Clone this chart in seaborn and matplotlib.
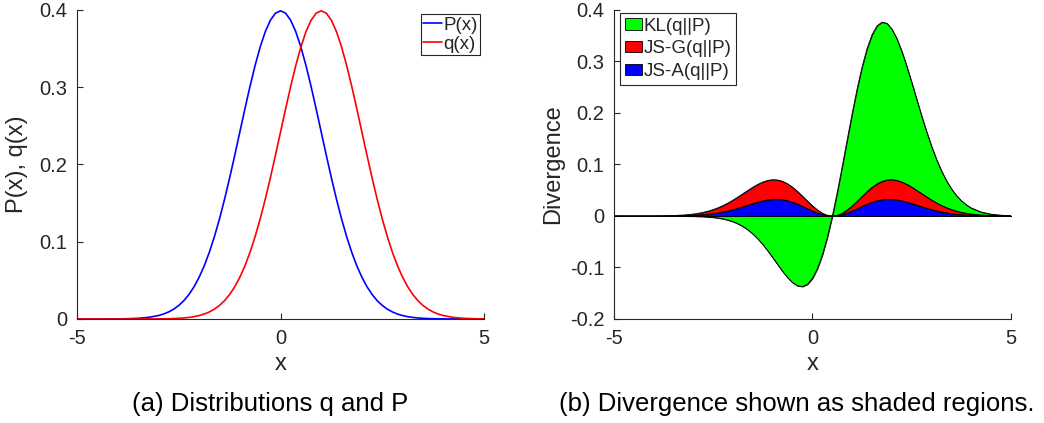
import numpy as np
import matplotlib
matplotlib.use("Agg")
import matplotlib.pyplot as plt
import seaborn as sns
from matplotlib.patches import Patch

# ---- data ----
x = np.concatenate([np.arange(-5, -3, 0.25),
                    np.arange(-3, 4.001, 0.125),
                    np.arange(4.25, 5.001, 0.25)])

p_x = [0.0000015, 0.0000051, 0.000016, 0.000048, 0.000134, 0.000353, 0.000873, 0.002029,
       0.004432, 0.006398, 0.009094, 0.012724, 0.017528, 0.023772, 0.031740, 0.041721,
       0.053991, 0.068787, 0.086277, 0.106538, 0.129518, 0.155012, 0.182649, 0.211877,
       0.241971, 0.272055, 0.301137, 0.328161, 0.352065, 0.371855, 0.386668, 0.395838,
       0.398942, 0.395838, 0.386668, 0.371855, 0.352065, 0.328161, 0.301137, 0.272055,
       0.241971, 0.211877, 0.182649, 0.155012, 0.129518, 0.106538, 0.086277, 0.068787,
       0.053991, 0.041721, 0.031740, 0.023772, 0.017528, 0.012724, 0.009094, 0.006398,
       0.004432, 0.003022, 0.002029, 0.001341, 0.000873, 0.000559, 0.000353, 0.000219,
       0.000134, 0.000048, 0.000016, 0.0000051, 0.0000015]

q_x = [0.0, 0.00000002, 0.0000001, 0.0000004, 0.0000015, 0.0000051, 0.000016, 0.000048,
       0.000134, 0.000219, 0.000353, 0.000559, 0.000873, 0.001341, 0.002029, 0.003022,
       0.004432, 0.006398, 0.009094, 0.012724, 0.017528, 0.023772, 0.031740, 0.041721,
       0.053991, 0.068787, 0.086277, 0.106538, 0.129518, 0.155012, 0.182649, 0.211877,
       0.241971, 0.272055, 0.301137, 0.328161, 0.352065, 0.371855, 0.386668, 0.395838,
       0.398942, 0.395838, 0.386668, 0.371855, 0.352065, 0.328161, 0.301137, 0.272055,
       0.241971, 0.211877, 0.182649, 0.155012, 0.129518, 0.106538, 0.086277, 0.068787,
       0.053991, 0.041721, 0.031740, 0.023772, 0.017528, 0.012724, 0.009094, 0.006398,
       0.004432, 0.002029, 0.000873, 0.000353, 0.000134]

kl = [0.0, -0.0000001, -0.0000005, -0.000002, -0.0000068, -0.000022, -0.000064, -0.00018,
      -0.00047, -0.00074, -0.00115, -0.00175, -0.00262, -0.00386, -0.00558, -0.00793,
      -0.01108, -0.01520, -0.02046, -0.02704, -0.03506, -0.04457, -0.05555, -0.06780,
      -0.08099, -0.09458, -0.10785, -0.11986, -0.12952, -0.13564, -0.13699, -0.13242,
      -0.12099, -0.10202, -0.07528, -0.04102, 0.0, 0.04648, 0.09667, 0.14844,
      0.19947, 0.24740, 0.29000, 0.32537, 0.35207, 0.36918, 0.37642, 0.37408,
      0.36296, 0.34430, 0.31964, 0.29065, 0.25904, 0.22639, 0.19412, 0.16337,
      0.13498, 0.10952, 0.08729, 0.06834, 0.05258, 0.03976, 0.02956, 0.02159,
      0.01551, 0.00761, 0.00349, 0.00150, 0.00060]

js_g = [0.0, 0.00001, 0.00002, 0.00006, 0.00015, 0.00037, 0.00086, 0.00186,
        0.00376, 0.00521, 0.00710, 0.00950, 0.01249, 0.01612, 0.02043, 0.02540,
        0.03097, 0.03704, 0.04342, 0.04984, 0.05600, 0.06152, 0.06602, 0.06913,
        0.07049, 0.06987, 0.06714, 0.06233, 0.05564, 0.04743, 0.03825, 0.02874,
        0.01962, 0.01161, 0.00535, 0.00137, 0.0, 0.00137, 0.00535, 0.01161,
        0.01962, 0.02874, 0.03825, 0.04743, 0.05564, 0.06233, 0.06714, 0.06987,
        0.07049, 0.06913, 0.06602, 0.06152, 0.05600, 0.04984, 0.04342, 0.03704,
        0.03097, 0.02540, 0.02043, 0.01612, 0.01249, 0.00950, 0.00710, 0.00521,
        0.00376, 0.00186, 0.00086, 0.00037, 0.00015]

js_a = [0.0, 0.00001, 0.00001, 0.00002, 0.00004, 0.00011, 0.00027, 0.00061,
        0.00128, 0.00181, 0.00252, 0.00345, 0.00462, 0.00609, 0.00787, 0.00998,
        0.01240, 0.01512, 0.01804, 0.02109, 0.02410, 0.02692, 0.02935, 0.03120,
        0.03227, 0.03242, 0.03155, 0.02962, 0.02672, 0.02299, 0.01869, 0.01414,
        0.00971, 0.00577, 0.00267, 0.00068, 0.0, 0.00068, 0.00267, 0.00577,
        0.00971, 0.01414, 0.01869, 0.02299, 0.02672, 0.02962, 0.03155, 0.03242,
        0.03227, 0.03120, 0.02935, 0.02692, 0.02410, 0.02109, 0.01804, 0.01512,
        0.01240, 0.00998, 0.00787, 0.00609, 0.00462, 0.00345, 0.00252, 0.00181,
        0.00128, 0.00061, 0.00027, 0.00011, 0.00004]

x_ticks = [-5, 0, 5]
x_tick_labels = ["-5", "0", "5"]
left_y_ticks = [0, 0.1, 0.2, 0.3, 0.4]
left_y_tick_labels = ["0", "0.1", "0.2", "0.3", "0.4"]
right_y_ticks = [-0.2, -0.1, 0, 0.1, 0.2, 0.3, 0.4]
right_y_tick_labels = ["-0.2", "-0.1", "0", "0.1", "0.2", "0.3", "0.4"]

# ---- style ----
sns.set_theme(style="ticks")
plt.rcParams["font.family"] = ["Liberation Sans", "DejaVu Sans"]
axcol = "#262626"

fig = plt.figure(figsize=(10.44, 4.23), dpi=100)
ax1 = fig.add_axes([0.0738, 0.2459, 0.3898, 0.7305])
ax2 = fig.add_axes([0.5881, 0.2459, 0.3803, 0.7305])


def style_axis(ax):
    for s in ["top", "right"]:
        ax.spines[s].set_visible(False)
    for s in ["left", "bottom"]:
        ax.spines[s].set_color(axcol)
        ax.spines[s].set_linewidth(0.8)
    ax.tick_params(direction="in", length=4, width=0.8, color=axcol,
                   labelsize=14.5, labelcolor=axcol, pad=7)


# ---- left panel ----
sns.lineplot(x=x, y=p_x, color=(0, 0, 1), lw=1.2, ax=ax1, label="P(x)")
sns.lineplot(x=x, y=q_x, color=(1, 0, 0), lw=1.2, ax=ax1, label="q(x)")
ax1.set_xlim(-5, 5)
ax1.set_ylim(0, 0.4)
ax1.set_xticks(x_ticks, x_tick_labels)
ax1.set_yticks(left_y_ticks, left_y_tick_labels)
style_axis(ax1)
ax1.set_xlabel("x", fontsize=17, color=axcol, labelpad=4)
ax1.set_ylabel("P(x), q(x)", fontsize=17, color=axcol, labelpad=8)
leg1 = ax1.legend(loc="upper right", fontsize=13.5, handlelength=1.0,
                  handletextpad=0.05, borderpad=0.15, labelspacing=0.1,
                  borderaxespad=0.2, fancybox=False, framealpha=1,
                  edgecolor=axcol)
leg1.get_frame().set_linewidth(0.8)

# ---- right panel ----
ax2.fill_between(x, 0, kl, facecolor=(0, 1, 0), edgecolor="black", lw=0.6)
ax2.fill_between(x, 0, js_g, facecolor=(1, 0, 0), edgecolor="black", lw=0.6)
ax2.fill_between(x, 0, js_a, facecolor=(0, 0, 1), edgecolor="black", lw=0.6)
sns.lineplot(x=x, y=kl, color="black", lw=0.6, ax=ax2)
sns.lineplot(x=x, y=js_g, color="black", lw=0.6, ax=ax2)
sns.lineplot(x=x, y=js_a, color="black", lw=0.6, ax=ax2)
ax2.set_xlim(-5, 5)
ax2.set_ylim(-0.2, 0.4)
ax2.set_xticks(x_ticks, x_tick_labels)
ax2.set_yticks(right_y_ticks, right_y_tick_labels)
style_axis(ax2)
ax2.set_xlabel("x", fontsize=17, color=axcol, labelpad=4)
ax2.set_ylabel("Divergence", fontsize=17, color=axcol, labelpad=4)
handles = [Patch(facecolor=(0, 1, 0), edgecolor="black", lw=0.6),
           Patch(facecolor=(1, 0, 0), edgecolor="black", lw=0.6),
           Patch(facecolor=(0, 0, 1), edgecolor="black", lw=0.6)]
leg2 = ax2.legend(handles, ["KL(q||P)", "JS-G(q||P)", "JS-A(q||P)"],
                  loc="upper left", bbox_to_anchor=(0.015, 0.99),
                  fontsize=13.5, handlelength=0.95, handleheight=0.55,
                  handletextpad=0.05, borderpad=0.25, labelspacing=0.3,
                  borderaxespad=0.0, fancybox=False, framealpha=1,
                  edgecolor=axcol)
leg2.get_frame().set_linewidth(0.8)

# ---- captions ----
fig.text(270 / 1044, 1 - 404 / 423, "(a) Distributions q and P",
         ha="center", va="center", fontsize=18.5, color="black")
fig.text(797 / 1044, 1 - 404 / 423, "(b) Divergence shown as shaded regions.",
         ha="center", va="center", fontsize=18.5, color="black")

fig.savefig("out.png", dpi=100)
